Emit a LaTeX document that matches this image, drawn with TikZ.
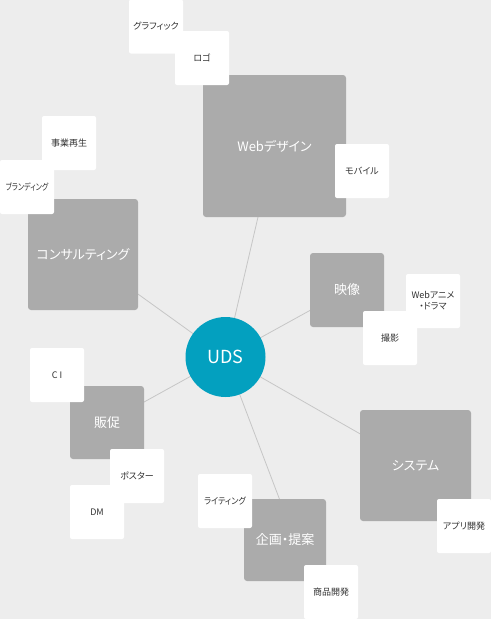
\documentclass[tikz,border=0pt]{standalone}
\usepackage{fontspec}
\usepackage{graphicx}
\setmainfont{Noto Sans CJK JP}[RawFeature=+palt]
\usetikzlibrary{calc}
\definecolor{bgc}{HTML}{EDEDED}
\definecolor{boxgray}{HTML}{ABABAB}
\definecolor{udsblue}{HTML}{03A0BF}
\definecolor{linegray}{HTML}{C6C6C6}
\definecolor{txt}{HTML}{333333}
\pgfdeclarelayer{back}
\pgfsetlayers{back,main}
\begin{document}
\begin{tikzpicture}[x=1pt,y=-1pt,
  mainbox/.style={fill=boxgray, rounded corners=3pt, text=white, inner sep=0pt,
    font=\fontsize{13}{15}\selectfont},
  subbox/.style={fill=white, rounded corners=2pt, text=txt, align=center,
    minimum width=54pt, minimum height=54pt, inner sep=0pt,
    font=\fontsize{9}{11}\selectfont},
  link/.style={draw=linegray, line width=0.8pt}]
\useasboundingbox (0,0) rectangle (491,619);
% main category boxes
\node[mainbox, minimum width=143pt, minimum height=142pt] (web) at (274.5,146) {Webデザイン};
\node[mainbox, minimum width=110pt, minimum height=111pt] (consult) at (83,254.5) {コンサルティング};
\node[mainbox, minimum width=74pt, minimum height=74pt] (eizo) at (347,290) {映像};
\node[mainbox, minimum width=74pt, minimum height=73pt] (hansoku) at (107,422.5) {販促};
\node[mainbox, minimum width=82pt, minimum height=82pt] (kikaku) at (285,540) {企画・提案};
\node[mainbox, minimum width=111pt, minimum height=111pt] (system) at (415.5,465.5) {システム};
% sub boxes
\node[subbox] (graphic) at (156,26.5) {グラフィック};
\node[subbox] (logo) at (202,58) {ロゴ};
\node[subbox] (mobile) at (362,171) {モバイル};
\node[subbox] (jigyo) at (69,143) {事業再生};
\node[subbox] (brand) at (27,187) {\scalebox{0.78}[1]{ブランディング}};
\node[subbox] (anime) at (433,301) {Webアニメ\\・ドラマ};
\node[subbox] (satsuei) at (390,338) {撮影};
\node[subbox] (ci) at (57,375) {C I};
\node[subbox] (poster) at (137,476) {ポスター};
\node[subbox] (dm) at (97,512) {DM};
\node[subbox] (writing) at (225,501) {\scalebox{0.9}[1]{ライティング}};
\node[subbox] (shohin) at (331,592) {商品開発};
\node[subbox] (appli) at (464,526) {アプリ開発};
% hub
\node[circle, fill=udsblue, minimum size=80pt, inner sep=0pt, text=white,
  font=\fontsize{18}{20}\selectfont] (uds) at (225.5,357) {UDS};
% background and connectors
\begin{pgfonlayer}{back}
\fill[bgc] (0,0) rectangle (491,619);
\draw[link] (uds.center) -- (web.center);
\draw[link] (uds.center) -- (consult.center);
\draw[link] (uds.center) -- (eizo.center);
\draw[link] (uds.center) -- (hansoku.center);
\draw[link] (uds.center) -- ($(kikaku.center)+(10,0)$);
\draw[link] (uds.center) -- (system.center);
\end{pgfonlayer}
\end{tikzpicture}
\end{document}
